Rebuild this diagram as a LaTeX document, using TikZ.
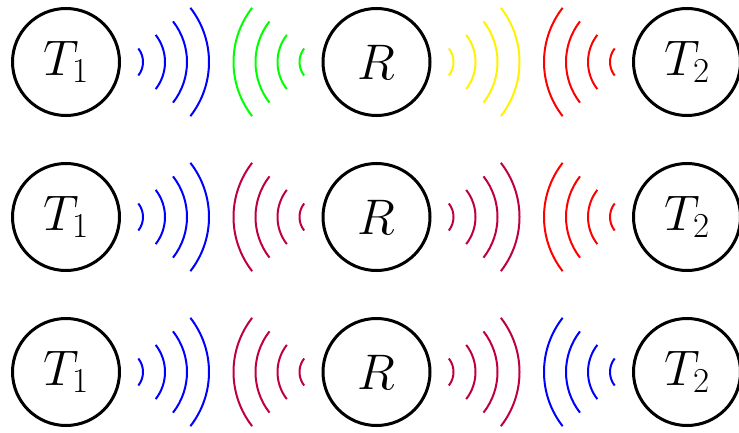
\RequirePackage{fix-cm}
\documentclass[tikz,border=0pt]{standalone}
\begin{document}
\begin{tikzpicture}[x=1pt,y=1pt,
  station/.style={circle,draw,line width=3pt,minimum size=107pt,inner sep=0pt,
    font=\fontsize{50}{60}\selectfont},
  wave/.style={line width=2pt}]
\useasboundingbox (0,0) rectangle (739,432);
\foreach \n/\y in {a/370,b/215,c/60}{
  \node[station] (t1\n) at (66,\y) {$T_1$};
  \node[station] (r\n) at (376.5,\y) {$R$};
  \node[station] (t2\n) at (687,\y) {$T_2$};
}
% row 1
\foreach \r in {22pt,44pt,66pt,88pt}{
  \draw[wave,blue]   (t1a.east) ++(-38:\r) arc (-38:38:\r);
  \draw[wave,green]  (ra.west)  ++(142:\r) arc (142:218:\r);
  \draw[wave,yellow] (ra.east)  ++(-38:\r) arc (-38:38:\r);
  \draw[wave,red]    (t2a.west) ++(142:\r) arc (142:218:\r);
}
% row 2
\foreach \r in {22pt,44pt,66pt,88pt}{
  \draw[wave,blue]   (t1b.east) ++(-38:\r) arc (-38:38:\r);
  \draw[wave,purple] (rb.west)  ++(142:\r) arc (142:218:\r);
  \draw[wave,purple] (rb.east)  ++(-38:\r) arc (-38:38:\r);
  \draw[wave,red]    (t2b.west) ++(142:\r) arc (142:218:\r);
}
% row 3
\foreach \r in {22pt,44pt,66pt,88pt}{
  \draw[wave,blue]   (t1c.east) ++(-38:\r) arc (-38:38:\r);
  \draw[wave,purple] (rc.west)  ++(142:\r) arc (142:218:\r);
  \draw[wave,purple] (rc.east)  ++(-38:\r) arc (-38:38:\r);
  \draw[wave,blue]   (t2c.west) ++(142:\r) arc (142:218:\r);
}
\end{tikzpicture}
\end{document}
